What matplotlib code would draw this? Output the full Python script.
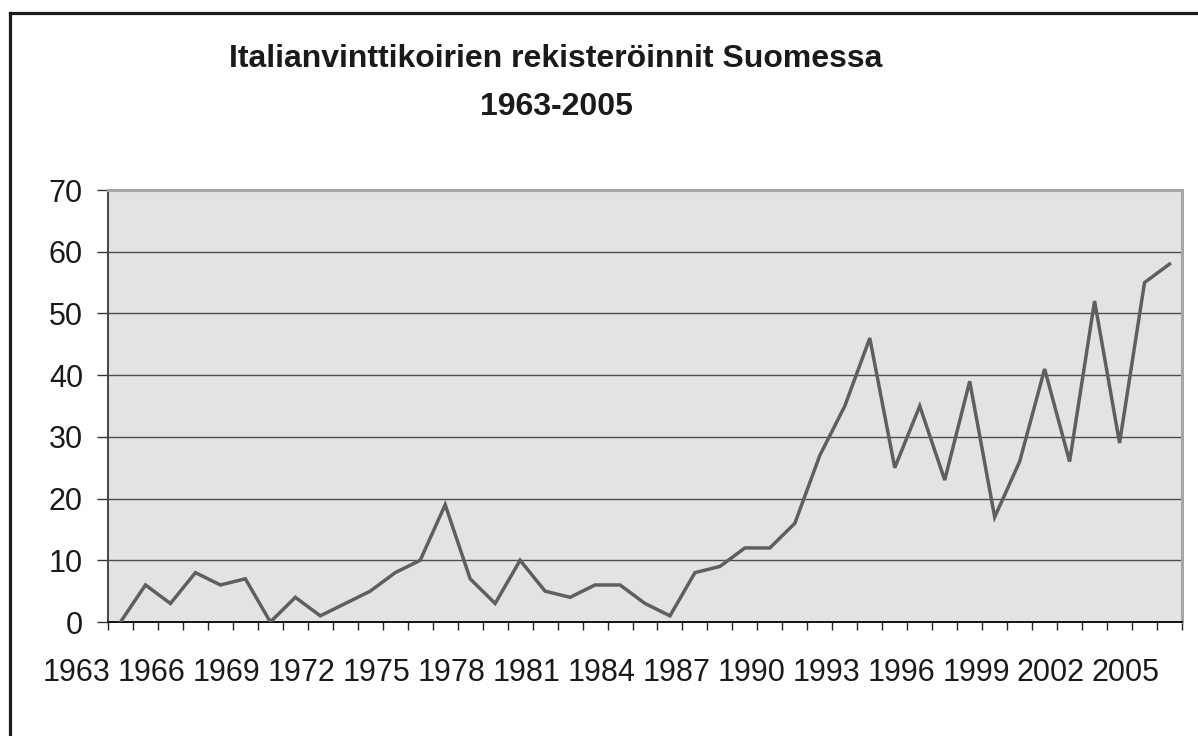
import matplotlib.pyplot as plt
import matplotlib.transforms as mtransforms
from matplotlib.lines import Line2D

years = list(range(1963, 2006))
registrations = [0, 6, 3, 8, 6, 7, 0, 4, 1, 3,
                 5, 8, 10, 19, 7, 3, 10, 5, 4, 6,
                 6, 3, 1, 8, 9, 12, 12, 16, 27, 35,
                 46, 25, 35, 23, 39, 17, 26, 41, 26, 52,
                 29, 55, 58]
label_years = years[::3]
y_ticks = [0, 10, 20, 30, 40, 50, 60, 70]

title = "Italianvinttikoirien rekisteröinnit Suomessa\n1963-2005"

plt.rcParams['font.family'] = ['Liberation Sans', 'DejaVu Sans']

fig = plt.figure(figsize=(11.98, 7.36), dpi=100)
ax = fig.add_axes([108 / 1198, 1 - 622 / 736, 1074 / 1198, 432 / 736])
ax.set_facecolor('#e3e3e3')

x = list(range(len(years)))
ax.plot(x, registrations, color='#5f5f5f', linewidth=2.5, zorder=3,
        solid_joinstyle='miter')

ax.set_xlim(-0.5, len(years) - 0.5)
ax.set_ylim(0, 70)

# gridlines
for v in y_ticks[1:-1]:
    ax.axhline(v, color='#4d4d4d', linewidth=1.0, zorder=1)

ax.set_yticks(y_ticks)
ax.set_yticklabels([str(v) for v in y_ticks], fontsize=22, color='#1a1a1a')
ax.tick_params(axis='y', direction='out', length=8, width=1, color='#333333', pad=10)

# category boundaries as tick marks, labels placed separately
ax.set_xticks([i - 0.5 for i in range(len(years) + 1)])
ax.set_xticklabels([])
ax.tick_params(axis='x', direction='out', length=5.5, width=1, color='#222222')

trans = mtransforms.blended_transform_factory(ax.transData, ax.transAxes)
for k, yr in enumerate(label_years):
    ax.text(3 * k - 1.75, -0.118, str(yr), transform=trans, ha='center', va='center',
            fontsize=22, color='#1a1a1a', clip_on=False)

for side in ['top', 'right']:
    ax.spines[side].set_color('#a6a6a6')
    ax.spines[side].set_linewidth(2.2)
ax.spines['left'].set_color('#444444')
ax.spines['left'].set_linewidth(1.4)
ax.spines['bottom'].set_color('#111111')
ax.spines['bottom'].set_linewidth(1.4)

fig.text(556 / 1198, 1 - 83 / 736, title, ha='center', va='center',
         fontsize=23, fontweight='bold', color='#1a1a1a', linespacing=1.8,
         multialignment='center')

# outer chart frame (only top and left edges are visible)
fig.add_artist(Line2D([10 / 1198, 10 / 1198], [0, 1 - 13 / 736], transform=fig.transFigure,
                      color='#1a1a1a', linewidth=2.3))
fig.add_artist(Line2D([10 / 1198, 1], [1 - 13 / 736, 1 - 13 / 736], transform=fig.transFigure,
                      color='#1a1a1a', linewidth=2.3, solid_capstyle='projecting'))

fig.savefig('out.png', dpi=100)
